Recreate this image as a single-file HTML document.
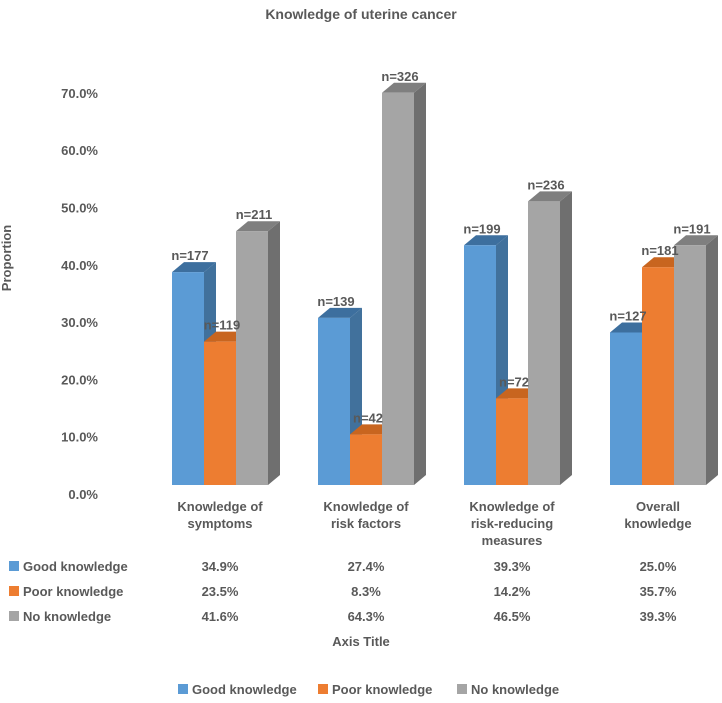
<!DOCTYPE html>
<html><head><meta charset="utf-8"><style>
body{margin:0;background:#fff;}
svg text{font-family:"Liberation Sans",sans-serif;font-weight:bold;fill:#595959;}
</style></head><body>
<svg id="c" width="722" height="698">
<text x="361" y="19" text-anchor="middle" font-size="14">Knowledge of uterine cancer</text>
<text transform="translate(11,258) rotate(-90)" text-anchor="middle" font-size="13">Proportion</text>
<text x="361" y="646" text-anchor="middle" font-size="13">Axis Title</text>
<g id="ticks"></g><g id="bars"></g><g id="table"></g><g id="legend"></g>
</svg>
<script>
const categories=[["Knowledge of","symptoms"],["Knowledge of","risk factors"],["Knowledge of","risk-reducing","measures"],["Overall","knowledge"]];
const seriesNames=["Good knowledge","Poor knowledge","No knowledge"];
const goodValues=[34.9,27.4,39.3,25.0];
const poorValues=[23.5,8.3,14.2,35.7];
const noValues=[41.6,64.3,46.5,39.3];
const goodCounts=[177,139,199,127];
const poorCounts=[119,42,72,181];
const noCounts=[211,326,236,191];
const tickLabels=["0.0%","10.0%","20.0%","30.0%","40.0%","50.0%","60.0%","70.0%"];
const NS="http://www.w3.org/2000/svg";
const svg=document.getElementById('c');
function mk(tag,attrs,parent){const e=document.createElementNS(NS,tag);for(const k in attrs)e.setAttribute(k,attrs[k]);(parent||svg).appendChild(e);return e;}
const base=485,pxPer=6.1;
function y(v){return base-v*pxPer;}
function gx(i){return 172+i*146;}
const bw=32,dx=12,dy=10;
const cols=[["#5b9bd5","#41719c","#3d6f9e"],["#ed7d31","#ae5a21","#c8651f"],["#a5a5a5","#6f6f6f","#7f7f7f"]];
const vals=[goodValues,poorValues,noValues],cnts=[goodCounts,poorCounts,noCounts];
const tg=document.getElementById('ticks');
tickLabels.forEach((t,i)=>{const e=mk('text',{x:98,y:494-i*57.3+5,'text-anchor':'end','font-size':13},tg);e.textContent=t;

});
const bg=document.getElementById('bars');
categories.forEach((c,i)=>{
 for(let s=0;s<3;s++){
  const x=gx(i)+s*bw,t=y(vals[s][i]);
  const g=mk('g',{},bg);
  
  
  mk('polygon',{points:`${x+bw},${t} ${x+bw+dx},${t-dy} ${x+bw+dx},${base-dy} ${x+bw},${base}`,fill:cols[s][1]},g);
  mk('polygon',{points:`${x},${t} ${x+dx},${t-dy} ${x+bw+dx},${t-dy} ${x+bw},${t}`,fill:cols[s][2]},g);
  mk('rect',{x:x,y:t,width:bw,height:base-t,fill:cols[s][0]},g);
 }
 for(let s=0;s<3;s++){
  const x=gx(i)+s*bw,t=y(vals[s][i]);
  const l=mk('text',{x:x+bw/2+2,y:t-12,'text-anchor':'middle','font-size':13},bg);
  l.textContent='n='+cnts[s][i];
  
  
 }
});
const tb=document.getElementById('table');
categories.forEach((c,i)=>{const cx=gx(i)+48;
 c.forEach((ln,j)=>{const e=mk('text',{x:cx,y:511+j*17,'text-anchor':'middle','font-size':13},tb);e.textContent=ln;
 
 });
 for(let s=0;s<3;s++){const e=mk('text',{x:cx,y:571+s*25,'text-anchor':'middle','font-size':13},tb);e.textContent=vals[s][i].toFixed(1)+'%';
 
 }
});
seriesNames.forEach((n,s)=>{mk('rect',{x:9,y:561+s*25,width:10,height:10,fill:cols[s][0]},tb);
 const e=mk('text',{x:23,y:571+s*25,'font-size':13},tb);e.textContent=n;
 
 });
const lg=document.getElementById('legend');
const lx=[178,318,457];
seriesNames.forEach((n,s)=>{const g=mk('g',{},lg);
 
 
 mk('rect',{x:lx[s],y:684,width:10,height:10,fill:cols[s][0]},g);
 const e=mk('text',{x:lx[s]+14,y:694,'font-size':13},g);e.textContent=n;});
</script>
</body></html>
